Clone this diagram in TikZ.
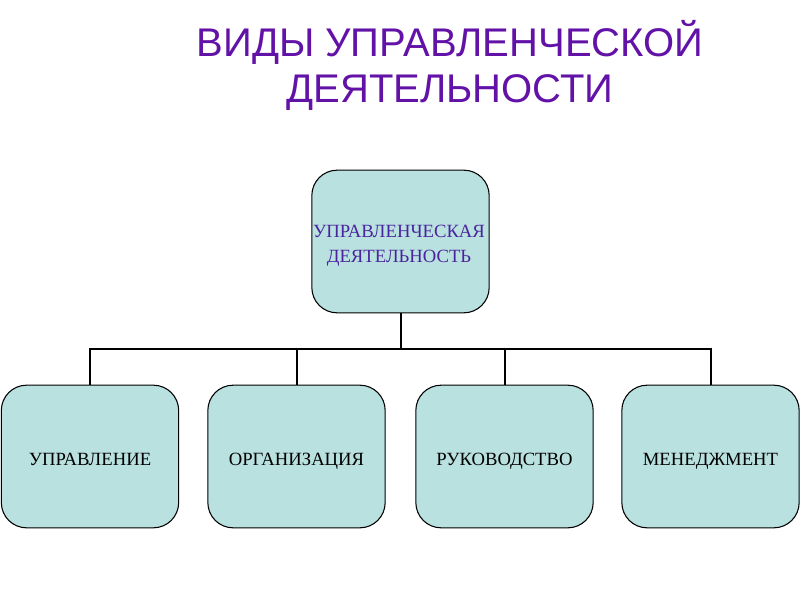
\documentclass[tikz,border=0pt]{standalone}
\usepackage{fontspec}
\setmainfont{Liberation Serif}
\newfontfamily\titlefont{Liberation Sans}
\usepackage{xcolor}
\usetikzlibrary{positioning, calc}
\definecolor{boxfill}{HTML}{B9E1E0}
\definecolor{titlepurple}{HTML}{6312A8}
\definecolor{topblue}{HTML}{4A249E}

\begin{document}
\begin{tikzpicture}[x=0.75pt,y=-0.75pt,
    kind/.style={rectangle,draw=black,line width=0.8pt,fill=boxfill,minimum width=133pt,minimum height=107pt,rounded corners=19pt,font=\fontsize{14}{18.5}\selectfont,align=center,inner sep=0pt,text height=17pt,text depth=3pt},
    link/.style={draw=black,line width=1.5pt}]
    \useasboundingbox (0,0) rectangle (800,600);
    % Titolo
    \node[font=\titlefont\fontsize{30}{34.5}\selectfont,text=titlepurple,align=center] (title) at (450,65) {ВИДЫ УПРАВЛЕНЧЕСКОЙ\\ДЕЯТЕЛЬНОСТИ};
    % Nodo principale
    \node[kind] (attivita) at (400.5,241.5) {};
    \node[font=\fontsize{14}{18.5}\selectfont,text=topblue,align=center] (attivitatxt) at (399,246) {УПРАВЛЕНЧЕСКАЯ\\ДЕЯТЕЛЬНОСТЬ};
    % Sottotipi
    \node[kind] (upravlenie) at (90,456.5) {УПРАВЛЕНИЕ};
    \node[kind] (organizacia) at (296.5,456.5) {ОРГАНИЗАЦИЯ};
    \node[kind] (rukovodstvo) at (504.5,456.5) {РУКОВОДСТВО};
    \node[kind] (menedzhment) at (710.5,456.5) {МЕНЕДЖМЕНТ};
    % Collegamenti
    \coordinate (bivio) at ($(attivita.south)+(0,36)$);
    \draw[link] (attivita.south) -- (bivio);
    \draw[link] (bivio) -| (upravlenie.north);
    \draw[link] (bivio) -| (organizacia.north);
    \draw[link] (bivio) -| (rukovodstvo.north);
    \draw[link] (bivio) -| (menedzhment.north);
\end{tikzpicture}
\end{document}
